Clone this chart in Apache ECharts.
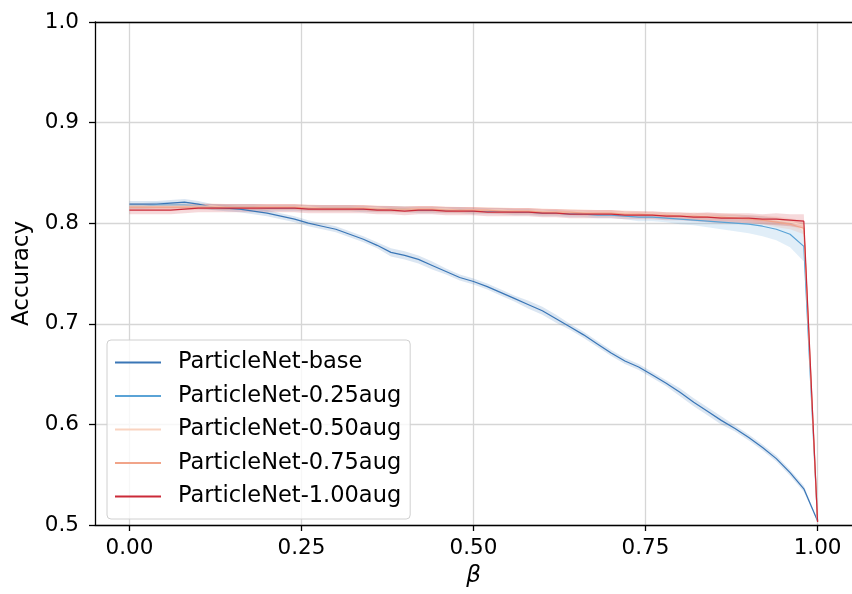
<!DOCTYPE html>
<html>
<head>
<meta charset="utf-8">
<script src="https://cdn.jsdelivr.net/npm/echarts@6/dist/echarts.min.js"></script>
<style>
  html, body { margin: 0; padding: 0; background: #fff; }
  #chart { width: 852px; height: 594px; }
</style>
</head>
<body>
<div id="chart"></div>
<script>
// beta values of the evaluation sweep
const betas = [0.00,0.02,0.04,0.06,0.08,0.10,0.12,0.14,0.16,0.18,0.20,0.22,0.24,0.26,0.28,0.30,0.32,0.34,0.36,0.38,0.40,0.42,0.44,0.46,0.48,0.50,0.52,0.54,0.56,0.58,0.60,0.62,0.64,0.66,0.68,0.70,0.72,0.74,0.76,0.78,0.80,0.82,0.84,0.86,0.88,0.90,0.92,0.94,0.96,0.98,1.00];

// mean accuracy per model
const accBase = [0.819,0.819,0.819,0.820,0.821,0.819,0.816,0.815,0.814,0.812,0.810,0.807,0.804,0.800,0.797,0.794,0.789,0.784,0.778,0.771,0.768,0.764,0.758,0.752,0.746,0.742,0.737,0.731,0.725,0.719,0.713,0.705,0.697,0.689,0.680,0.671,0.663,0.657,0.649,0.641,0.632,0.622,0.613,0.604,0.596,0.587,0.577,0.566,0.552,0.536,0.504];
const acc025 = [0.817,0.817,0.818,0.818,0.818,0.817,0.816,0.816,0.816,0.816,0.815,0.815,0.815,0.815,0.815,0.815,0.815,0.814,0.814,0.814,0.814,0.813,0.813,0.813,0.813,0.812,0.812,0.812,0.811,0.811,0.810,0.810,0.809,0.809,0.808,0.808,0.807,0.806,0.806,0.805,0.804,0.803,0.802,0.801,0.800,0.799,0.797,0.794,0.789,0.777,0.504];
const acc050 = [0.817,0.817,0.817,0.817,0.817,0.817,0.817,0.816,0.816,0.816,0.816,0.816,0.816,0.816,0.815,0.815,0.815,0.815,0.815,0.814,0.814,0.814,0.814,0.814,0.813,0.813,0.813,0.813,0.812,0.812,0.812,0.811,0.811,0.811,0.810,0.810,0.810,0.809,0.809,0.808,0.808,0.807,0.807,0.806,0.806,0.805,0.804,0.803,0.801,0.798,0.503];
const acc075 = [0.816,0.816,0.816,0.816,0.816,0.816,0.816,0.816,0.816,0.816,0.816,0.816,0.816,0.815,0.815,0.815,0.815,0.815,0.814,0.814,0.814,0.814,0.814,0.813,0.813,0.813,0.813,0.812,0.812,0.812,0.811,0.811,0.811,0.810,0.810,0.810,0.809,0.809,0.808,0.808,0.807,0.807,0.806,0.806,0.805,0.804,0.803,0.801,0.799,0.795,0.503];
const acc100 = [0.813,0.813,0.813,0.813,0.814,0.815,0.815,0.815,0.815,0.815,0.815,0.815,0.815,0.814,0.814,0.814,0.814,0.814,0.813,0.813,0.812,0.813,0.813,0.812,0.812,0.812,0.811,0.811,0.811,0.811,0.810,0.810,0.809,0.809,0.809,0.809,0.808,0.808,0.808,0.807,0.807,0.806,0.806,0.805,0.805,0.805,0.804,0.804,0.803,0.802,0.503];

// spread of accuracy across runs (half-width of the shaded band)
const sdBase = [0.003,0.003,0.003,0.003,0.003,0.003,0.003,0.003,0.003,0.003,0.003,0.003,0.003,0.003,0.003,0.003,0.003,0.003,0.003,0.004,0.004,0.004,0.004,0.003,0.003,0.003,0.003,0.003,0.003,0.004,0.004,0.004,0.003,0.003,0.003,0.003,0.003,0.003,0.003,0.003,0.004,0.004,0.004,0.004,0.003,0.003,0.003,0.003,0.003,0.003,0.001];
const sd025 = [0.003,0.003,0.003,0.003,0.003,0.003,0.003,0.003,0.003,0.003,0.003,0.003,0.003,0.003,0.003,0.003,0.003,0.003,0.003,0.003,0.003,0.003,0.003,0.003,0.003,0.003,0.003,0.003,0.003,0.003,0.003,0.003,0.003,0.003,0.003,0.003,0.003,0.004,0.004,0.004,0.005,0.005,0.006,0.007,0.008,0.009,0.010,0.011,0.013,0.015,0.002];
const sd050 = [0.003,0.003,0.003,0.003,0.003,0.003,0.003,0.003,0.003,0.003,0.003,0.003,0.003,0.003,0.003,0.003,0.003,0.003,0.003,0.003,0.003,0.003,0.003,0.003,0.003,0.003,0.003,0.003,0.003,0.003,0.003,0.003,0.003,0.003,0.003,0.003,0.003,0.003,0.003,0.003,0.003,0.003,0.003,0.003,0.003,0.003,0.004,0.004,0.004,0.005,0.001];
const sd075 = [0.003,0.003,0.003,0.003,0.003,0.003,0.003,0.003,0.003,0.003,0.003,0.003,0.003,0.003,0.003,0.003,0.003,0.003,0.003,0.003,0.003,0.003,0.003,0.003,0.003,0.003,0.003,0.003,0.003,0.003,0.003,0.003,0.003,0.003,0.003,0.003,0.003,0.003,0.003,0.003,0.003,0.004,0.004,0.004,0.004,0.004,0.004,0.005,0.005,0.006,0.001];
const sd100 = [0.004,0.004,0.004,0.004,0.004,0.004,0.004,0.004,0.004,0.004,0.004,0.004,0.004,0.004,0.004,0.004,0.004,0.004,0.004,0.004,0.004,0.004,0.004,0.004,0.004,0.004,0.004,0.004,0.004,0.004,0.004,0.004,0.004,0.004,0.004,0.004,0.004,0.004,0.004,0.004,0.004,0.004,0.005,0.005,0.005,0.005,0.005,0.006,0.006,0.007,0.001];

const xTicks = [0, 0.25, 0.5, 0.75, 1.0];

const models = [
  { name: 'ParticleNet-base',    mean: accBase, sd: sdBase, color: '#3a76b6', band: 'rgba(58,118,182,0.18)' },
  { name: 'ParticleNet-0.25aug', mean: acc025,  sd: sd025,  color: '#5aa3d6', band: 'rgba(90,163,214,0.18)' },
  { name: 'ParticleNet-0.50aug', mean: acc050,  sd: sd050,  color: '#f9d3c0', band: 'rgba(249,200,176,0.22)' },
  { name: 'ParticleNet-0.75aug', mean: acc075,  sd: sd075,  color: '#f1a489', band: 'rgba(241,164,137,0.22)' },
  { name: 'ParticleNet-1.00aug', mean: acc100,  sd: sd100,  color: '#cb2a38', band: 'rgba(203,42,56,0.18)' }
];

const FONT = 'DejaVu Sans';

function bandSeries(m) {
  return {
    type: 'custom',
    name: m.name + ' band',
    silent: true,
    clip: true,
    z: 1,
    data: [[0, 0]],
    renderItem: function (params, api) {
      const upper = betas.map((b, i) => api.coord([b, m.mean[i] + m.sd[i]]));
      const lower = betas.map((b, i) => api.coord([b, m.mean[i] - m.sd[i]])).reverse();
      return {
        type: 'polygon',
        shape: { points: upper.concat(lower) },
        style: { fill: m.band, stroke: null }
      };
    }
  };
}

function lineSeries(m) {
  return {
    type: 'line',
    name: m.name,
    z: 3,
    symbol: 'none',
    color: m.color,
    lineStyle: { color: m.color, width: 1.2 },
    data: betas.map((b, i) => [b, m.mean[i]])
  };
}

const chart = echarts.init(document.getElementById('chart'), null, { renderer: 'canvas' });

chart.setOption({
  animation: false,
  backgroundColor: '#ffffff',
  grid: { left: 95, top: 22, right: 0, bottom: 69, containLabel: false },
  legend: {
    left: 107,
    top: 340,
    orient: 'vertical',
    data: models.map(m => ({ name: m.name, itemStyle: { color: m.color } })),
    icon: 'rect',
    itemWidth: 46,
    itemHeight: 2,
    itemGap: 10.5,
    padding: [11, 9, 11, 8],
    backgroundColor: 'rgba(255,255,255,0.8)',
    borderColor: '#d0d0d0',
    borderWidth: 1,
    borderRadius: 4,
    textStyle: { fontFamily: FONT, fontSize: 22.5, color: '#000', lineHeight: 22.5, padding: [0, 0, 0, 12] }
  },
  xAxis: [
    {
      type: 'value',
      min: -0.05,
      max: 1.05,
      name: 'β',
      nameLocation: 'middle',
      nameGap: 40,
      nameTextStyle: { fontFamily: FONT, fontSize: 23, fontStyle: 'italic', color: '#000' },
      axisLine: { show: true, onZero: false, lineStyle: { color: '#000', width: 1.3 } },
      axisTick: { show: true, customValues: xTicks, length: 6, lineStyle: { color: '#000', width: 1.3 } },
      axisLabel: {
        customValues: xTicks,
        margin: 12,
        fontFamily: FONT, fontSize: 21.5, color: '#000',
        formatter: v => v.toFixed(2)
      },
      splitLine: { show: true, lineStyle: { color: '#d6d6d6', width: 1.3 } }
    },
    {
      type: 'value',
      position: 'top',
      min: -0.05,
      max: 1.05,
      axisLine: { show: true, onZero: false, lineStyle: { color: '#000', width: 1.3 } },
      axisTick: { show: false },
      axisLabel: { show: false },
      splitLine: { show: false }
    }
  ],
  yAxis: {
    type: 'value',
    min: 0.5,
    max: 1.0,
    interval: 0.1,
    name: 'Accuracy',
    nameLocation: 'middle',
    nameGap: 61,
    nameTextStyle: { fontFamily: FONT, fontSize: 23, color: '#000' },
    axisLine: { show: true, onZero: false, lineStyle: { color: '#000', width: 1.3 } },
    axisTick: { show: true, length: 6, lineStyle: { color: '#000', width: 1.3 } },
    axisLabel: {
      margin: 16,
      fontFamily: FONT, fontSize: 21.5, color: '#000',
      formatter: v => v.toFixed(1)
    },
    splitLine: { show: true, lineStyle: { color: '#d6d6d6', width: 1.3 } }
  },
  series: models.map(bandSeries).concat(models.map(lineSeries))
});
</script>
</body>
</html>
